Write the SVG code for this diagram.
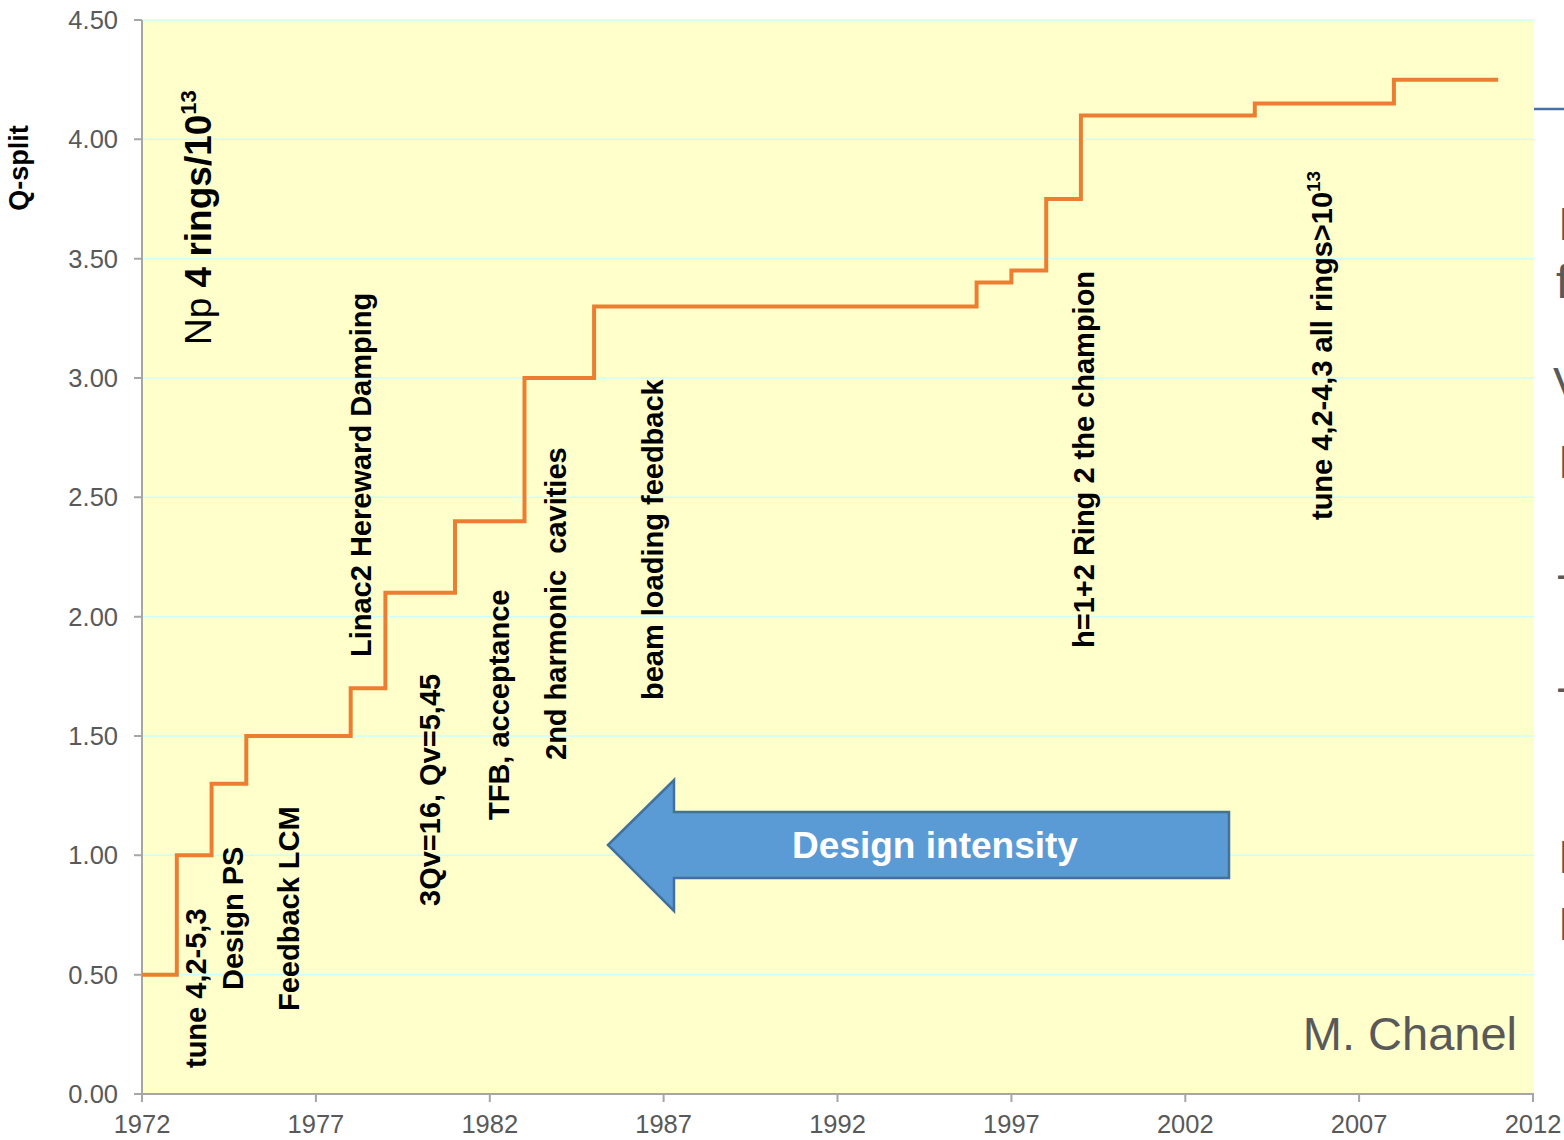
<svg xmlns="http://www.w3.org/2000/svg" width="1564" height="1140" viewBox="0 0 1564 1140">
<style>
.tick{font-family:"Liberation Sans",Arial,sans-serif;font-size:25.5px;fill:#595959}
.ann{font-family:"Liberation Sans",Arial,sans-serif;font-size:29px;font-weight:bold;fill:#000}
.grid{stroke:#CCFFFF;stroke-width:1.5}
.axis{stroke:#A6A6A6;stroke-width:2;fill:none}
.frag{font-family:"Liberation Sans",Arial,sans-serif;font-size:46px;fill:#595959}
</style>
<defs>
<clipPath id="edge"><rect x="1534" y="0" width="30" height="1140"/></clipPath>
</defs>
<rect width="1564" height="1140" fill="#FFFFFF"/>
<g id="plot-area">
<rect x="142" y="20" width="1392" height="1074" fill="#FFFFCC"/>
<g id="gridlines">
<line class="grid" x1="142" y1="20" x2="1534" y2="20"/>
<line class="grid" x1="142" y1="139.3" x2="1534" y2="139.3"/>
<line class="grid" x1="142" y1="258.7" x2="1534" y2="258.7"/>
<line class="grid" x1="142" y1="378" x2="1534" y2="378"/>
<line class="grid" x1="142" y1="497.3" x2="1534" y2="497.3"/>
<line class="grid" x1="142" y1="616.7" x2="1534" y2="616.7"/>
<line class="grid" x1="142" y1="736" x2="1534" y2="736"/>
<line class="grid" x1="142" y1="855.3" x2="1534" y2="855.3"/>
<line class="grid" x1="142" y1="974.7" x2="1534" y2="974.7"/>
</g>
</g>
<g id="axes">
<path class="axis" d="M142,20 V1094 H1534"/>
<path class="axis" d="M134,20 H142 M134,139.3 H142 M134,258.7 H142 M134,378 H142 M134,497.3 H142 M134,616.7 H142 M134,736 H142 M134,855.3 H142 M134,974.7 H142 M134,1094 H142"/>
<path class="axis" d="M142,1094 V1102 M315.9,1094 V1102 M489.8,1094 V1102 M663.6,1094 V1102 M837.5,1094 V1102 M1011.4,1094 V1102 M1185.3,1094 V1102 M1359.1,1094 V1102 M1533,1094 V1102"/>
<g id="y-labels" text-anchor="end">
<text class="tick" x="118" y="29">4.50</text>
<text class="tick" x="118" y="148.3">4.00</text>
<text class="tick" x="118" y="267.7">3.50</text>
<text class="tick" x="118" y="387">3.00</text>
<text class="tick" x="118" y="506.3">2.50</text>
<text class="tick" x="118" y="625.7">2.00</text>
<text class="tick" x="118" y="745">1.50</text>
<text class="tick" x="118" y="864.3">1.00</text>
<text class="tick" x="118" y="983.7">0.50</text>
<text class="tick" x="118" y="1103">0.00</text>
</g>
<g id="x-labels" text-anchor="middle">
<text class="tick" x="142" y="1133">1972</text>
<text class="tick" x="315.9" y="1133">1977</text>
<text class="tick" x="489.8" y="1133">1982</text>
<text class="tick" x="663.6" y="1133">1987</text>
<text class="tick" x="837.5" y="1133">1992</text>
<text class="tick" x="1011.4" y="1133">1997</text>
<text class="tick" x="1185.3" y="1133">2002</text>
<text class="tick" x="1359.1" y="1133">2007</text>
<text class="tick" x="1533" y="1133">2012</text>
</g>
<text id="y-title" transform="translate(28,168) rotate(-90)" text-anchor="middle" font-family="Liberation Sans, Arial, sans-serif" font-size="27" font-weight="bold" fill="#000">Q-split</text>
</g>
<g id="series">
<path d="M142,974.7 H176.8 V855.3 H211.6 V783.7 H246.3 V736 H350.7 V688.3 H385.4 V592.8 H455 V521.2 H524.5 V378 H594.1 V306.4 H976.6 V282.5 H1011.4 V270.6 H1046.2 V199 H1080.9 V115.5 H1254.8 V103.5 H1393.9 V79.7 H1498.2" fill="none" stroke="#ED7D31" stroke-width="4"/>
</g>
<g id="annotations">
<text transform="translate(211,345) rotate(-90)" font-family="Liberation Sans, Arial, sans-serif" font-size="37" fill="#000">Np <tspan font-weight="bold">4 rings/10</tspan><tspan font-weight="bold" font-size="22" dy="-15">13</tspan></text>
<text class="ann" transform="translate(206,1068) rotate(-90)">tune 4,2-5,3</text>
<text class="ann" transform="translate(243,990) rotate(-90)">Design PS</text>
<text class="ann" transform="translate(299,1011) rotate(-90)">Feedback LCM</text>
<text class="ann" transform="translate(371,657) rotate(-90)">Linac2 Hereward Damping</text>
<text class="ann" transform="translate(440,906) rotate(-90)" xml:space="preserve">3Qv=16, Qv=5,45</text>
<text class="ann" transform="translate(509,820) rotate(-90)">TFB, acceptance</text>
<text class="ann" transform="translate(566,760) rotate(-90)" xml:space="preserve">2nd harmonic  cavities</text>
<text class="ann" transform="translate(663,700) rotate(-90)">beam loading feedback</text>
<text class="ann" transform="translate(1094,648) rotate(-90)">h=1+2 Ring 2 the champion</text>
<text class="ann" transform="translate(1332,520) rotate(-90)">tune 4,2-4,3 all rings&gt;10<tspan font-size="19" dy="-12">13</tspan></text>
<text x="1517" y="1050" text-anchor="end" font-family="Liberation Sans, Arial, sans-serif" font-size="47" fill="#595959">M. Chanel</text>
</g>
<g id="design-intensity-arrow">
<polygon points="608,845 674,780 674,812 1229,812 1229,878 674,878 674,911" fill="#5B9BD5" stroke="#41719C" stroke-width="2.5" stroke-linejoin="miter"/>
<text x="935" y="858" text-anchor="middle" font-family="Liberation Sans, Arial, sans-serif" font-size="37" font-weight="bold" fill="#FFFFFF">Design intensity</text>
</g>
<g id="slide-edge" clip-path="url(#edge)">
<line x1="1534" y1="109" x2="1564" y2="109" stroke="#4A6FA5" stroke-width="2.5"/>
<text class="frag" x="1558" y="240">I</text>
<text class="frag" x="1556" y="298">f</text>
<text class="frag" x="1553" y="400">V</text>
<text class="frag" x="1558" y="478">I</text>
<text class="frag" x="1556" y="590">-</text>
<text class="frag" x="1556" y="703">-</text>
<text class="frag" x="1558" y="873">I</text>
<text class="frag" x="1558" y="940">I</text>
</g>
</svg>
